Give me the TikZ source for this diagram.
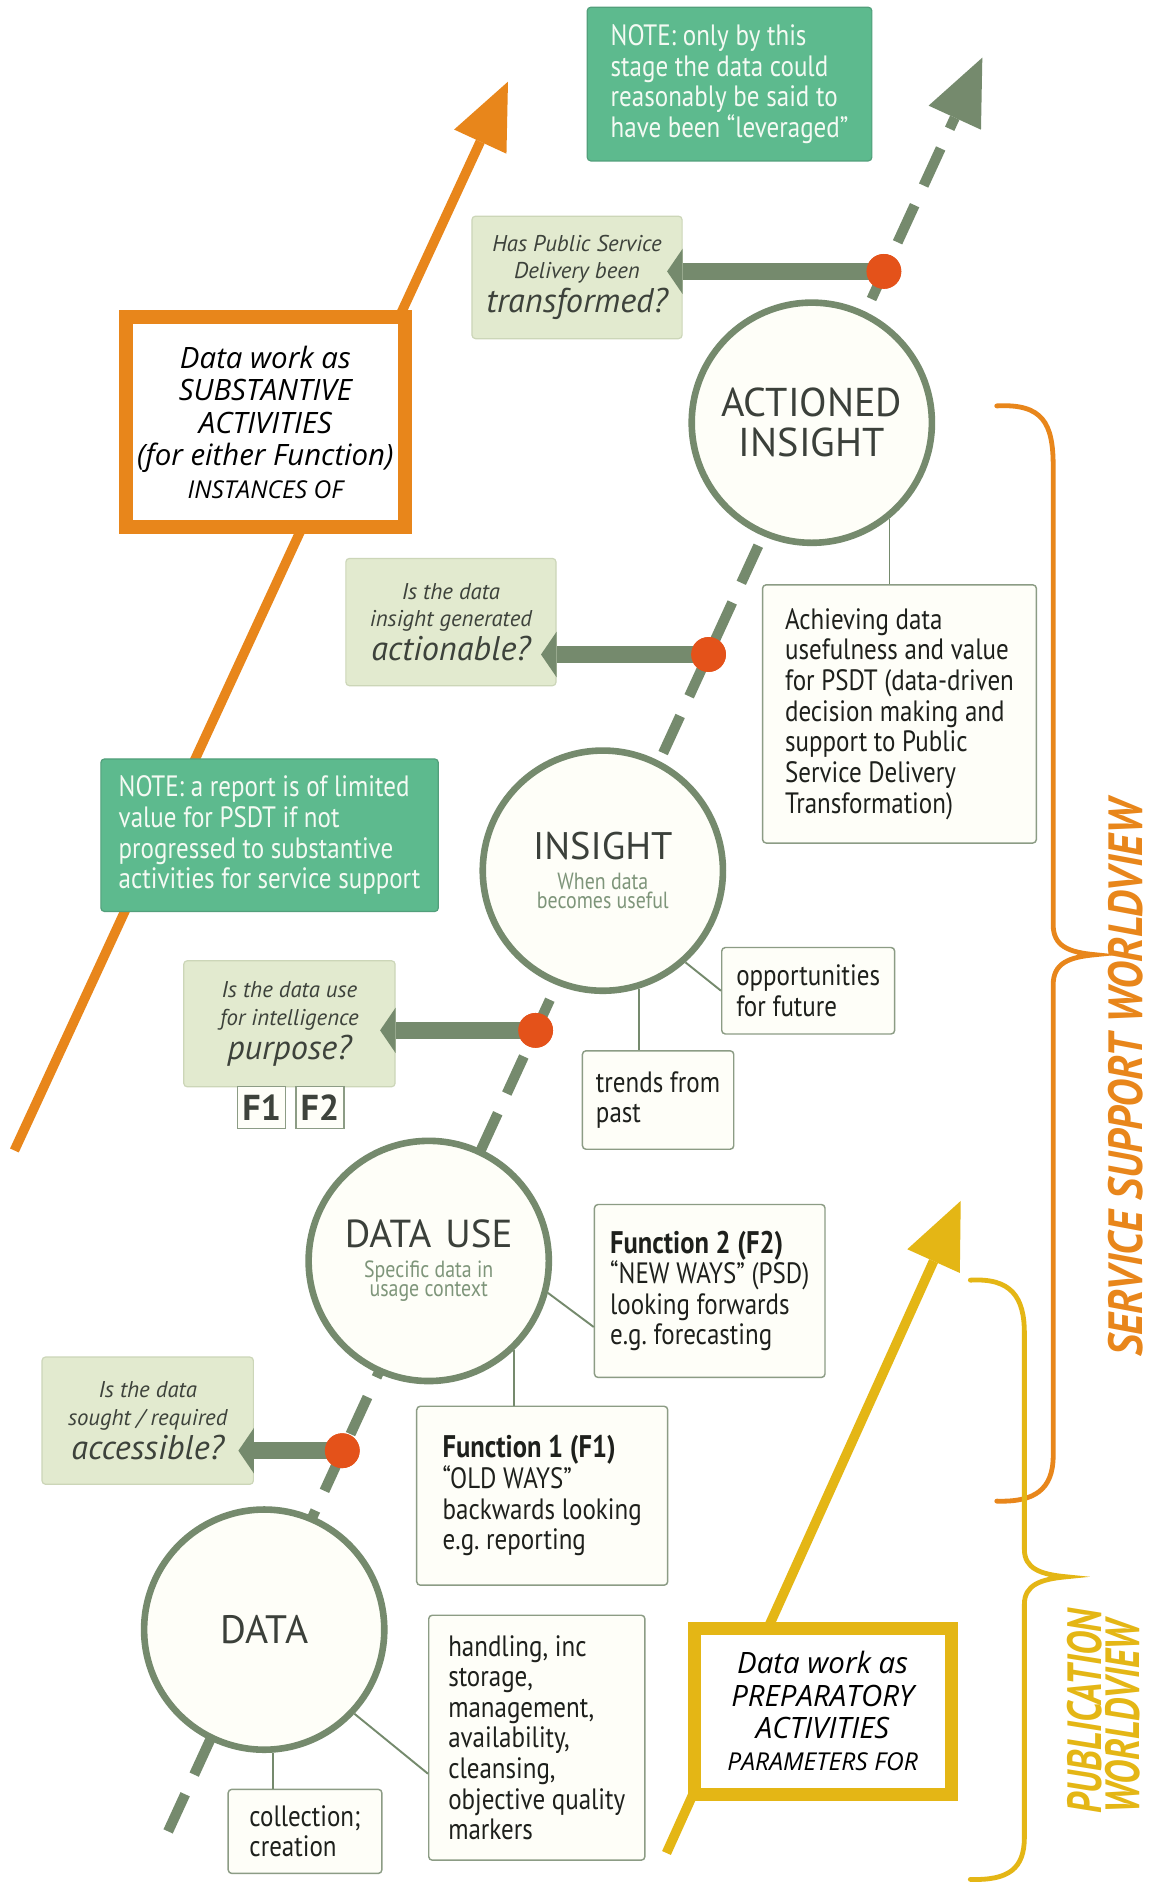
\documentclass[tikz,border=0pt]{standalone}
\usepackage{fontspec}
\setmainfont{PT Sans}
\newfontfamily\cond[FakeStretch=0.85]{PT Sans}
\newfontfamily\condx[FakeStretch=0.88]{PT Sans}
\newfontfamily\condy[FakeStretch=0.76]{PT Sans}
\newfontfamily\osans{Open Sans}
\usetikzlibrary{arrows.meta,calc}
\definecolor{gg}{HTML}{758A6D}
\definecolor{dotc}{HTML}{E4521A}
\definecolor{orng}{HTML}{E8861B}
\definecolor{yel}{HTML}{E4B615}
\definecolor{noteg}{HTML}{5DBA8E}
\definecolor{notegd}{HTML}{529F7B}
\definecolor{notet}{HTML}{F4FAF3}
\definecolor{qfill}{HTML}{E2EACF}
\definecolor{qdraw}{HTML}{CCD6B8}
\definecolor{qtext}{HTML}{3D423B}
\definecolor{offw}{HTML}{FEFEF8}
\definecolor{infod}{HTML}{8C9C85}
\definecolor{infot}{HTML}{1E201C}
\definecolor{subt}{HTML}{7E957A}
\definecolor{ctext}{HTML}{3B403A}
\begin{document}
\begin{tikzpicture}[x=1pt,y=-1pt,
  ring/.style={circle,draw=gg,line width=5.5pt,fill=offw,minimum size=200pt,inner sep=0pt,align=center,text=ctext},
  dotn/.style={circle,fill=dotc,minimum size=29pt,inner sep=0pt},
  qbox/.style={rectangle,rounded corners=3pt,fill=qfill,draw=qdraw,line width=1pt,inner sep=0pt,align=center,text=qtext,font=\itshape\fontsize{19pt}{23pt}\selectfont},
  notebox/.style={rectangle,rounded corners=3pt,fill=noteg,draw=notegd,line width=1pt,inner sep=0pt,align=left,text=notet,font=\cond\fontsize{24.5pt}{25.5pt}\selectfont},
  infobox/.style={rectangle,rounded corners=3pt,fill=offw,draw=infod,line width=1.2pt,inner sep=0pt,align=left,text=infot,font=\cond\fontsize{24.5pt}{25.5pt}\selectfont},
  conn/.style={draw=gg,line width=1.6pt},
  qarrow/.style={draw=gg,line width=14pt,-{Triangle[length=13pt,width=38pt,line width=0pt 0 0]},shorten >=-13pt},
  bigarrow/.style={-{Triangle[length=55pt,width=48pt,line width=0pt 0 0]}},
  wbox/.style={rectangle,fill=white,inner sep=0pt,align=center,text=black,font=\osans\itshape\fontsize{24.5pt}{27pt}\selectfont},
  fbox/.style={rectangle,fill=offw,draw=infod,line width=1pt,minimum width=40pt,minimum height=35pt,inner sep=0pt,font=\bfseries\fontsize{30pt}{30pt}\selectfont,text=qtext},
  brace/.style={line width=4pt,line cap=round}
]
\useasboundingbox[fill=white] (0,0) rectangle (959,1568);

% coordinates for the long arrows
\coordinate (s) at (140,1525);
\coordinate (e) at (818,48);
\coordinate (os) at (12,958);
\coordinate (oe) at (423,68);
\coordinate (ys) at (555,1543);
\coordinate (ye) at (800,1000);

% orange and yellow long arrows
\draw[bigarrow,draw=orng,line width=8pt] (os) -- (oe);
\draw[bigarrow,draw=yel,line width=8pt] (ys) -- (ye);

% braces
\draw[brace,orng] (830,338) .. controls (868,336) and (877,352) .. (877,388) -- (877,770)
  .. controls (877,788) and (890,793) .. (912,795) .. controls (890,797) and (877,802) .. (877,820)
  -- (877,1212) .. controls (877,1240) and (862,1251) .. (830,1250);
\draw[brace,yel] (808,1066) .. controls (842,1064) and (853,1080) .. (853,1110) -- (853,1290)
  .. controls (853,1306) and (866,1311) .. (888,1313) .. controls (866,1315) and (853,1320) .. (853,1336)
  -- (853,1530) .. controls (853,1556) and (840,1566) .. (808,1565);

\node[rotate=90,text=orng,font=\condx\bfseries\itshape\fontsize{40pt}{40pt}\selectfont] (ssw) at (937,898) {SERVICE SUPPORT WORLDVIEW};
\node[rotate=90,align=left,text=yel,font=\condy\bfseries\itshape\fontsize{40pt}{31.5pt}\selectfont] (pub) at (919,1425) {PUBLICATION\\WORLDVIEW};

% orange and yellow boxes
\node[wbox,draw=orng,line width=12pt,minimum width=232pt,minimum height=175pt] (ob) at (221,351.5)
  {Data work as\\SUBSTANTIVE\\ACTIVITIES\\(for either Function)\\{\fontsize{20.5pt}{27pt}\selectfont INSTANCES OF}};
\node[wbox,draw=yel,line width=11pt,minimum width=214pt,minimum height=138pt] (yb) at (685,1425)
  {Data work as\\PREPARATORY\\ACTIVITIES\\{\fontsize{20.5pt}{27pt}\selectfont PARAMETERS FOR}};

% notes
\node[notebox,minimum width=237pt,minimum height=128pt] (n1) at (607.5,70)
  {NOTE: only by this\\stage the data could\\reasonably be said to\\have been “leveraged”};
\node[notebox,minimum width=281pt,minimum height=127pt] (n2) at (224.5,695.5)
  {NOTE: a report is of limited\\value for PSDT if not\\progressed to substantive\\activities for service support};

% main dashed arrow
\draw[bigarrow,draw=gg,line width=8.5pt,dash pattern=on 34pt off 18pt] (s) -- (e);

% circles
\node[ring,font=\fontsize{33.5pt}{33pt}\selectfont] (c4) at (676,352) {ACTIONED\\INSIGHT};
\node[ring,font=\cond\fontsize{19.5pt}{16.5pt}\selectfont,text=subt] (c3) at (502,725)
  {{\rmfamily\fontsize{32pt}{30pt}\selectfont\color{ctext}INSIGHT}\\[8pt]When data\\becomes useful};
\node[ring,font=\cond\fontsize{19.5pt}{16.5pt}\selectfont,text=subt] (c2) at (357,1050)
  {{\rmfamily\fontsize{32.5pt}{30pt}\selectfont\color{ctext}DATA\hspace{3pt} USE}\\[8pt]Specific data in\\usage context};
\node[ring,font=\fontsize{33pt}{33pt}\selectfont] (c1) at (220,1357) {DATA};

% info boxes
\node[infobox,minimum width=228pt,minimum height=215pt] (ia) at (749,594.5)
  {Achieving data\\usefulness and value\\for PSDT (data-driven\\decision making and\\support to Public\\Service Delivery\\Transformation)};
\node[infobox,minimum width=144pt,minimum height=72pt] (ib) at (673,825) {opportunities\\for future};
\node[infobox,minimum width=126pt,minimum height=82pt] (ic) at (548,916) {trends from\\past};
\node[infobox,minimum width=192pt,minimum height=144pt] (id) at (591,1075)
  {{\bfseries\fontsize{26pt}{25.5pt}\selectfont Function 2 (F2)}\\“NEW WAYS” (PSD)\\looking forwards\\e.g.\ forecasting};
\node[infobox,minimum width=209pt,minimum height=149pt] (ie) at (451.5,1245.5)
  {{\bfseries\fontsize{26pt}{25.5pt}\selectfont Function 1 (F1)}\\“OLD WAYS”\\backwards looking\\e.g.\ reporting};
\node[infobox,minimum width=180pt,minimum height=204pt] (iff) at (447,1447)
  {handling, inc\\storage,\\management,\\availability,\\cleansing,\\objective quality\\markers};
\node[infobox,minimum width=128pt,minimum height=70pt] (ig) at (254,1525) {collection;\\creation};

% connectors
\draw[conn] (c4.-51.6) -- (c4.-51.6 |- ia.north);
\draw[conn] (c3.-48) -- (ib.west);
\draw[conn] (c3.-73) -- (c3.-73 |- ic.north);
\draw[conn] (c2.-15.6) -- ($(id.west)+(0,30)$);
\draw[conn] (c2.-46.4) -- (c2.-46.4 |- ie.north);
\draw[conn] (c1.-43.5) -- ($(iff.west)+(0,30)$);
\draw[conn] (c1.-86.7) -- (c1.-86.7 |- ig.north);

% question boxes
\node[qbox,minimum width=175pt,minimum height=102pt] (q1) at (480.5,231)
  {Has Public Service\\Delivery been\\[3pt]{\fontsize{28.5pt}{23pt}\selectfont transformed?}};
\node[qbox,minimum width=175pt,minimum height=106pt] (q2) at (375.5,518)
  {Is the data\\insight generated\\[3pt]{\fontsize{28.5pt}{23pt}\selectfont actionable?}};
\node[qbox,minimum width=176pt,minimum height=105pt] (q3) at (241,852.5)
  {Is the data use\\for intelligence\\[3pt]{\fontsize{28.5pt}{23pt}\selectfont purpose?}};
\node[qbox,minimum width=176pt,minimum height=106pt] (q4) at (123,1183)
  {Is the data\\sought / required\\[3pt]{\fontsize{28.5pt}{23pt}\selectfont accessible?}};

\node[fbox] (f1) at (218,922.5) {F1};
\node[fbox] (f2) at (266.5,922.5) {F2};

% dots
\node[dotn] (d4) at (736,226) {};
\node[dotn] (d3) at (590,545) {};
\node[dotn] (d2) at (446,858) {};
\node[dotn] (d1) at (285,1208) {};

% question arrows
\draw[qarrow] (d4.center) -- (d4.center -| q1.east);
\draw[qarrow] (d3.center) -- (d3.center -| q2.east);
\draw[qarrow] (d2.center) -- (d2.center -| q3.east);
\draw[qarrow] (d1.center) -- (d1.center -| q4.east);

% dots on top
\fill[dotc] (d4) circle (14.5pt) (d3) circle (14.5pt) (d2) circle (14.5pt) (d1) circle (14.5pt);
\end{tikzpicture}
\end{document}
